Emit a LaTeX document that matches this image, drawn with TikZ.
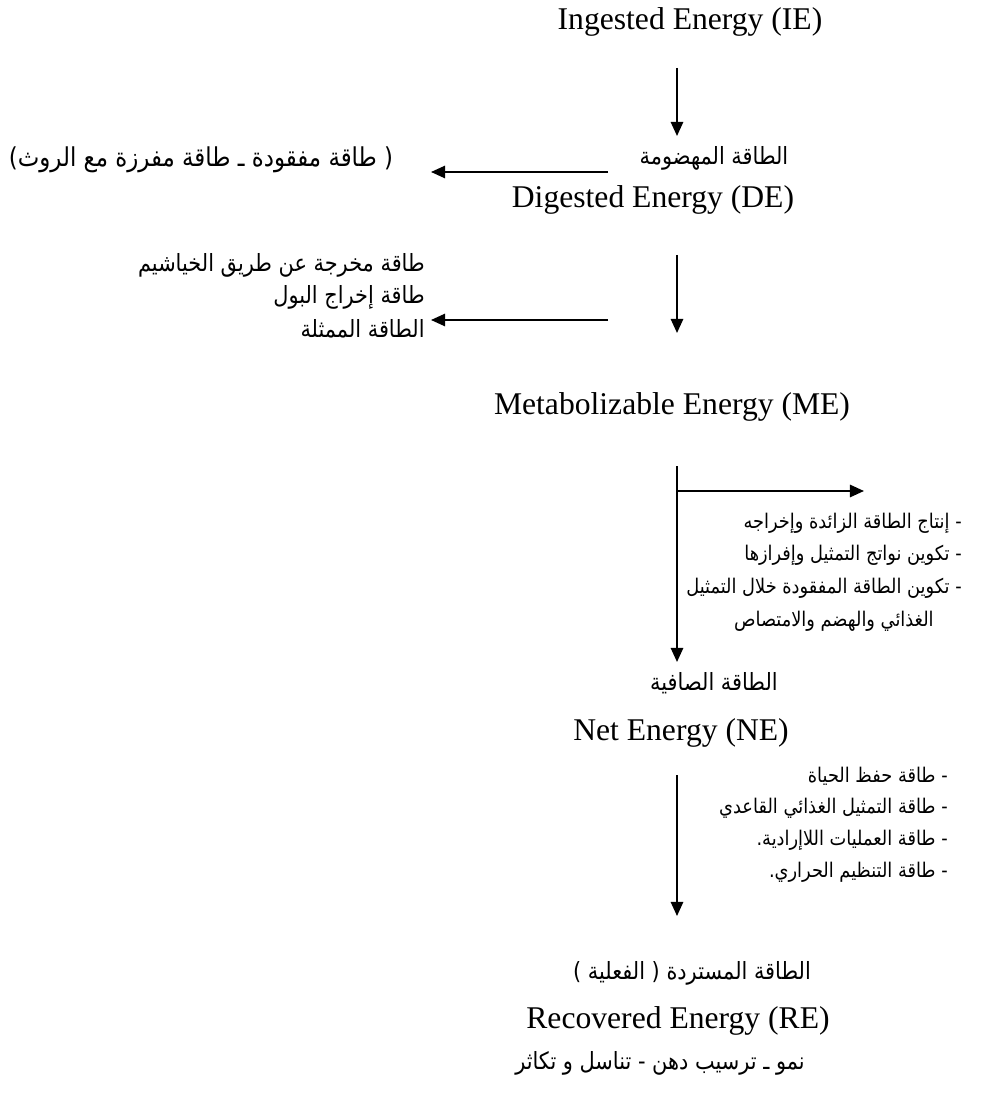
\documentclass[tikz,border=0pt]{standalone}
\usepackage{fontspec}
\setmainfont{Liberation Serif}
\newfontfamily\arabicfont[Script=Arabic, FakeStretch=0.88]{DejaVu Sans}
\TeXXeTstate=1
\usetikzlibrary{arrows.meta}
\usetikzlibrary{positioning}

\tikzset{
    entext/.style={font=\fontsize{18}{21}\selectfont, inner sep=0pt},
    artext/.style={font=\arabicfont\fontsize{13.5}{16}\selectfont, inner sep=0pt},
    listtext/.style={font=\arabicfont\fontsize{11.5}{14}\selectfont, inner sep=0pt, anchor=east},
    flow/.style={line width=1.1pt, -{Triangle[length=8pt, width=7pt]}}
}

\begin{document}
\begin{tikzpicture}[x=0.02cm, y=-0.02cm]
    \useasboundingbox (0,0) rectangle (991,1104);

    % Energy levels
    \node [entext] (ie) at (690,22) {Ingested Energy (IE)};
    \node [artext] (dear) at (714,158) {\beginR الطاقة المهضومة\endR};
    \node [entext] (de) at (653,200) {Digested Energy (DE)};
    \node [entext] (me) at (672,407) {Metabolizable Energy (ME)};
    \node [artext] (near) at (714,683) {\beginR الطاقة الصافية\endR};
    \node [entext] (ne) at (681,733) {Net Energy (NE)};
    \node [artext] (rear) at (692,973) {\beginR الطاقة المستردة ( الفعلية )\endR};
    \node [entext] (re) at (678,1021) {Recovered Energy (RE)};
    \node [artext] (use) at (660,1063) {\beginR نمو ـ ترسيب دهن - تناسل و تكاثر\endR};

    % Losses
    \node [artext, font=\arabicfont\fontsize{14.8}{17}\selectfont] (feces) at (201,160) {\beginR( طاقة مفقودة ـ طاقة مفرزة مع الروث)\endR};

    \node [artext, anchor=east] (gill) at (425,265) {\beginR طاقة مخرجة عن طريق الخياشيم\endR};
    \node [artext, anchor=east] (urine) at (425,297) {\beginR طاقة إخراج البول\endR};
    \node [artext, anchor=east] (assim) at (425,329) {\beginR الطاقة الممثلة\endR};

    \node [listtext] (heat1) at (962,523) {\beginR - إنتاج الطاقة الزائدة وإخراجه\endR};
    \node [listtext] (heat2) at (962,555) {\beginR - تكوين نواتج التمثيل وإفرازها\endR};
    \node [listtext] (heat3) at (962,588) {\beginR - تكوين الطاقة المفقودة خلال التمثيل\endR};
    \node [listtext] (heat4) at (934,621) {\beginR الغذائي والهضم والامتصاص\endR};

    \node [listtext] (main1) at (948,776) {\beginR - طاقة حفظ الحياة\endR};
    \node [listtext] (main2) at (948,808) {\beginR - طاقة التمثيل الغذائي القاعدي\endR};
    \node [listtext] (main3) at (948,840) {\beginR - طاقة العمليات اللاإرادية.\endR};
    \node [listtext] (main4) at (948,872) {\beginR - طاقة التنظيم الحراري.\endR};

    % Arrow ends
    \coordinate (a1) at (677,68);
    \coordinate (b1) at (677,136);
    \coordinate (a2) at (608,172);
    \coordinate (b2) at (431,172);
    \coordinate (a3) at (677,255);
    \coordinate (b3) at (677,333);
    \coordinate (a4) at (608,320);
    \coordinate (b4) at (431,320);
    \coordinate (a5) at (677,466);
    \coordinate (b5) at (677,662);
    \coordinate (a6) at (677,491);
    \coordinate (b6) at (864,491);
    \coordinate (a7) at (677,775);
    \coordinate (b7) at (677,916);

    % Arrows
    \draw [flow] (a1) -- (b1);
    \draw [flow] (a2) -- (b2);
    \draw [flow] (a3) -- (b3);
    \draw [flow] (a4) -- (b4);
    \draw [flow] (a5) -- (b5);
    \draw [flow] (a6) -- (b6);
    \draw [flow] (a7) -- (b7);

\end{tikzpicture}
\end{document}
